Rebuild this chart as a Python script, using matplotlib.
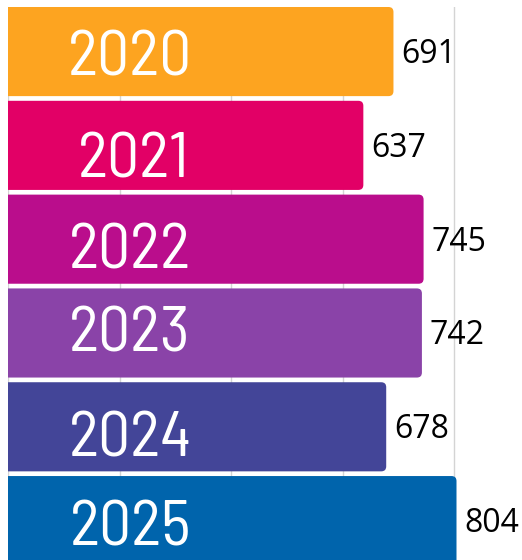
import matplotlib
matplotlib.use("Agg")
import matplotlib.pyplot as plt
from matplotlib.patches import FancyBboxPatch

# data
years = ["2020", "2021", "2022", "2023", "2024", "2025"]
values = [691, 637, 745, 742, 678, 804]
colors = ["#FDA420", "#E20066", "#BA0D8C", "#8A43A8", "#434598", "#0064AC"]
gridticks = [0, 200, 400, 600, 800]

# small nudges (px) of the year labels, as seen on the original
year_dx = [0, 3, 0, 0, 0, 0]
year_dy = [2, 10, 7, -3, 8, 3]

W, H = 522, 560
fig = plt.figure(figsize=(W / 100, H / 100), dpi=100)
px_per_unit = 448.5 / 804          # horizontal scale
xmax = (W - 8 - 2) / px_per_unit
ax = fig.add_axes([8 / W, 0, (W - 10) / W, 1 - 7 / H])
ax.set_xlim(0, xmax)
ax.set_ylim(5.42, -0.475)

bars = ax.barh(range(len(years)), values, height=0.95, color=colors)

# swap the plain rectangles for ones with rounded right corners
x_per_px = 1 / px_per_unit
y_per_px = 5.895 / (H - 7)
for b in bars:
    b.set_visible(False)
    x0, y0 = b.get_x(), b.get_y()
    w, h = b.get_width(), b.get_height()
    p = FancyBboxPatch((x0 - 30, y0), w + 30, h,
                       boxstyle="round,pad=0,rounding_size=%f" % (5 * x_per_px),
                       mutation_aspect=y_per_px / x_per_px,
                       fc=b.get_facecolor(), ec="none", zorder=2)
    ax.add_patch(p)

for i, (yr, v) in enumerate(zip(years, values)):
    # va=center counts the descent too, so push the digits down a bit
    ax.annotate(yr, (219, i), xytext=(year_dx[i], -year_dy[i] - 6), textcoords="offset pixels",
                ha="center", va="center", color="white", fontsize=46,
                family=["Barlow Semi Condensed", "DejaVu Sans"], weight="normal", zorder=3)
    ax.annotate(str(v), (v, i), xytext=(8, -3), textcoords="offset pixels",
                ha="left", va="center", color="black", fontsize=23,
                family=["Open Sans", "DejaVu Sans"], zorder=3)

ax.set_xticks(gridticks)
ax.grid(axis="x", color="#d4d4d4", lw=1)
ax.grid(axis="y", visible=False)
ax.set_axisbelow(True)
ax.tick_params(left=False, bottom=False, labelleft=False, labelbottom=False)
for s in ax.spines.values():
    s.set_visible(False)

fig.savefig("out.png", dpi=100)
